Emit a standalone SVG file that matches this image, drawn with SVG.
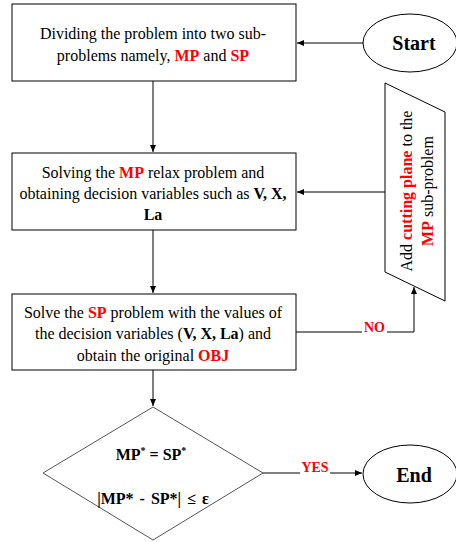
<svg xmlns="http://www.w3.org/2000/svg" width="456" height="542" viewBox="0 0 456 542">
<style>
.box{fill:#fff;stroke:#000;stroke-width:1}
.t{font-family:"Liberation Serif","Times New Roman",serif;font-size:16px;fill:#000;text-anchor:middle}
.r{fill:#ff0000;font-weight:bold}
.b{font-weight:bold}
.term{font-family:"Liberation Serif","Times New Roman",serif;font-size:20px;font-weight:bold;fill:#000;text-anchor:middle}
.lbl{font-family:"Liberation Serif","Times New Roman",serif;font-size:14px;font-weight:bold;fill:#ff0000;text-anchor:middle}
.ln{fill:none;stroke:#000;stroke-width:1}
</style>
<defs>
<marker id="ah" markerWidth="8" markerHeight="8" refX="7" refY="4" orient="auto" markerUnits="userSpaceOnUse">
<path d="M0,1 L7,4 L0,7 Z" fill="#000"/>
</marker>
</defs>
<rect width="456" height="542" fill="#fff"/>
<g id="connectors">
<line class="ln" x1="363" y1="43" x2="297" y2="43" marker-end="url(#ah)"/>
<line class="ln" x1="153" y1="81" x2="153" y2="152" marker-end="url(#ah)"/>
<line class="ln" x1="385" y1="192" x2="297" y2="192" marker-end="url(#ah)"/>
<line class="ln" x1="153" y1="230" x2="153" y2="293" marker-end="url(#ah)"/>
<line class="ln" x1="153" y1="370" x2="153" y2="406" marker-end="url(#ah)"/>
<polyline class="ln" points="296,332 362,332"/>
<polyline class="ln" points="387,332 414,332 414,287" marker-end="url(#ah)"/>
<text class="lbl" x="374.5" y="332">NO</text>
<line class="ln" x1="263" y1="473" x2="300" y2="473"/>
<line class="ln" x1="330" y1="473" x2="362" y2="473" marker-end="url(#ah)"/>
<text class="lbl" x="315" y="472">YES</text>
</g>
<g id="start">
<ellipse class="box" cx="410" cy="43" rx="47" ry="29"/>
<text class="term" x="414" y="50">Start</text>
</g>
<g id="divide">
<rect class="box" x="12" y="4" width="284" height="77"/>
<text class="t" x="153" y="39">Dividing the problem into two sub-</text>
<text class="t" x="153" y="61">problems namely, <tspan class="r">MP</tspan> and <tspan class="r">SP</tspan></text>
</g>
<g id="solve-mp">
<rect class="box" x="12" y="153" width="284" height="77"/>
<text class="t" x="153" y="178">Solving the <tspan class="r">MP</tspan> relax problem and</text>
<text class="t" x="153" y="199">obtaining decision variables such as <tspan class="b">V, X,</tspan></text>
<text class="t b" x="153" y="220">La</text>
</g>
<g id="solve-sp">
<rect class="box" x="12" y="294" width="284" height="76"/>
<text class="t" x="153" y="318">Solve the <tspan class="r">SP</tspan> problem with the values of</text>
<text class="t" x="153" y="339">the decision variables (<tspan class="b">V, X, La</tspan>) and</text>
<text class="t" x="153" y="361">obtain the original <tspan class="r">OBJ</tspan></text>
</g>
<g id="add-cut">
<polygon class="box" points="385,83 445,112 445,301 385,272"/>
<text class="t" transform="translate(412,191) rotate(-90)" x="0" y="0">Add <tspan class="r">cutting plane</tspan> to the</text>
<text class="t" transform="translate(433,191) rotate(-90)" x="0" y="0"><tspan class="r">MP</tspan> sub-problem</text>
</g>
<g id="check">
<polygon class="box" points="153,407 263,473 153,540 43,473" style="stroke:#555"/>
<text class="t b" x="151" y="460">MP<tspan dy="-6" font-size="10">*</tspan><tspan dy="6"> =  SP</tspan><tspan dy="-6" font-size="10">*</tspan></text>
<text class="t b" x="153" y="504" word-spacing="2">|MP* - SP*| ≤ ε</text>
</g>
<g id="end">
<ellipse class="box" cx="410" cy="474" rx="47" ry="29"/>
<text class="term" x="414" y="482">End</text>
</g>
</svg>
